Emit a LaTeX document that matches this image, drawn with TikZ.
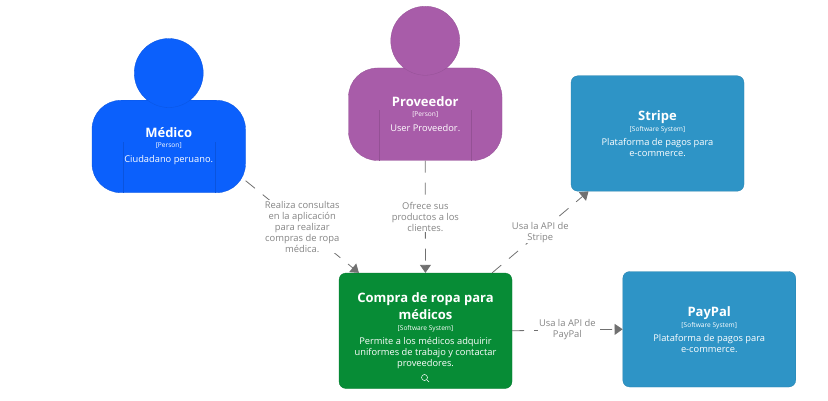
\documentclass[tikz,border=0pt]{standalone}
\usepackage{fontspec}
\setmainfont{Open Sans}
\usetikzlibrary{arrows.meta}
\definecolor{azul}{HTML}{0B60FC}
\definecolor{morado}{HTML}{A85CA9}
\definecolor{celeste}{HTML}{2E94C6}
\definecolor{verde}{HTML}{078C36}
\definecolor{gris}{HTML}{707070}
\definecolor{grisletra}{HTML}{858585}
\newcommand{\nombre}[1]{{\fontsize{13}{11}\selectfont\bfseries #1}}
\newcommand{\tipo}[1]{{\fontsize{6.6}{11}\selectfont #1}}
\tikzset{
    persona/.style={draw=#1!88!black, fill=#1, line width=.3pt, rounded corners=29pt, minimum width=153.5pt, minimum height=92.5pt,
        text=white, align=center, inner sep=0pt, font=\fontsize{9.3}{11}\selectfont},
    cabeza/.style={circle, draw=#1!88!black, fill=#1, line width=.3pt, minimum size=69pt, inner sep=0pt},
    sistema/.style={draw=#1!88!black, fill=#1, line width=.3pt, rounded corners=7pt, minimum width=173pt, minimum height=115.5pt,
        text=white, align=center, inner sep=0pt, font=\fontsize{9.3}{11}\selectfont},
    relacion/.style={draw=gris, line width=.8pt, dash pattern=on 12pt off 10pt, -{Triangle[length=8pt,width=11pt]}},
    etiqueta/.style={fill=white, text=grisletra, align=center, inner sep=1pt, font=\fontsize{9.4}{11}\selectfont},
}
\begin{document}
\begin{tikzpicture}[x=1pt, y=-1pt]
    \useasboundingbox (0, 0) rectangle (828, 401);
    % personas
    \foreach \id/\col/\cx/\cy/\nom/\txt in {medico/azul/168.75/146.5/Médico/Ciudadano peruano., proveedor/morado/425.25/114.25/Proveedor/User Proveedor.} {
        \node[persona=\col] (\id) at (\cx, \cy) {};
        \node[cabeza=\col] (\id cabeza) at ([yshift=73.5pt]\id.center) {};
        \draw[\col!88!black, line width=.3pt] ([xshift=-46pt]\id.south) -- ++(0, -51);
        \draw[\col!88!black, line width=.3pt] ([xshift=46pt]\id.south) -- ++(0, -51);
        \node[persona=\col, draw=none, fill=none] (\id texto) at (\cx, \cy-.5) {\nombre{\nom}\\[-.5pt] \tipo{[Person]}\\[3.5pt] \txt};
    }
    % sistemas
    \node[sistema=celeste] (stripe) at (657.5, 133.5) {\nombre{Stripe}\\[0pt] \tipo{[Software System]}\\[3pt] Plataforma de pagos para\\ e-commerce.};
    \node[sistema=celeste] (paypal) at (709.25, 329.25) {\nombre{PayPal}\\[0pt] \tipo{[Software System]}\\[3pt] Plataforma de pagos para\\ e-commerce.};
    \node[sistema=verde] (compra) at (425.5, 330.75) {\nombre{Compra de ropa para}\\[3pt] \nombre{médicos}\\[0pt] \tipo{[Software System]}\\[3.5pt] Permite a los médicos adquirir\\ uniformes de trabajo y contactar\\ proveedores.};
    % lupa
    \node[circle, draw=white, line width=.5pt, minimum size=6pt, inner sep=0pt] (lupa) at (424.5, 377.5) {};
    \coordinate (lupafin) at (429, 382);
    \draw[white, line width=.7pt] (lupa) -- (lupafin);
    % relaciones
    \draw[relacion] (medico.-24.2) -- (compra.139.7) node[etiqueta, pos=.5] (rel1) {Realiza consultas\\ en la aplicación\\ para realizar\\ compras de ropa\\ médica.};
    \draw[relacion] (proveedor) -- (compra) node[etiqueta, pos=.5] (rel2) {Ofrece sus\\ productos a los\\ clientes.};
    \draw[relacion] (compra.41.1) -- (stripe.220.4) node[etiqueta, pos=.5] (rel3) {Usa la API de\\ Stripe};
    \draw[relacion] (compra.east) -- (paypal.west) node[etiqueta, pos=.5] (rel4) {Usa la API de\\ PayPal};
\end{tikzpicture}
\end{document}
